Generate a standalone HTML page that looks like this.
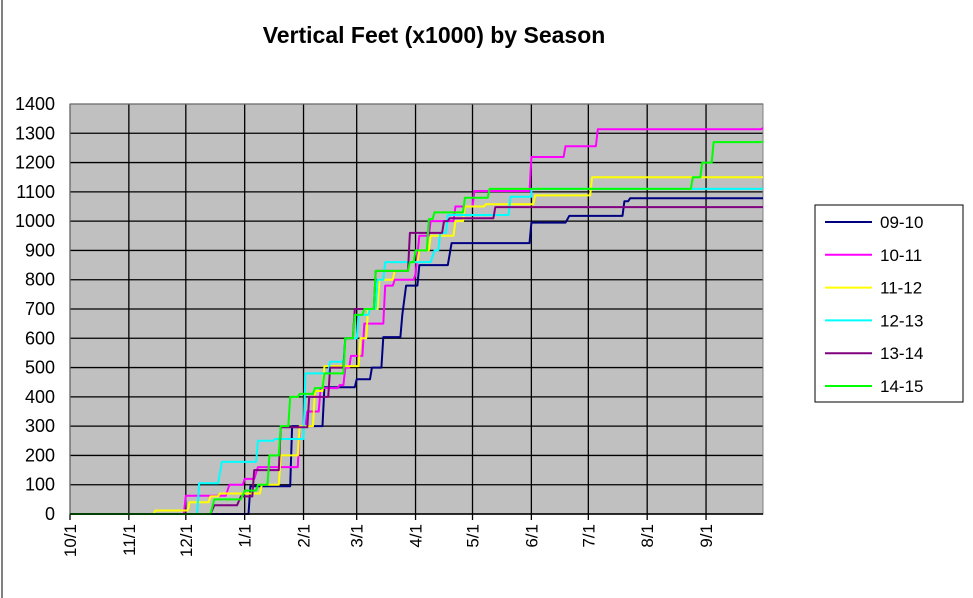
<!DOCTYPE html>
<html><head><meta charset="utf-8"><style>
body{margin:0;background:#fff;}
svg{display:block;font-family:"Liberation Sans",Arial,sans-serif;}
</style></head><body>
<svg id="chart" width="973" height="598" viewBox="0 0 973 598">
<rect x="0" y="0" width="973" height="598" fill="#fff"/>
<line x1="2" y1="0" x2="2" y2="598" stroke="#000" stroke-width="1"/>
<text x="434" y="43" text-anchor="middle" font-size="23" font-weight="bold">Vertical Feet (x1000)  by Season</text>
<rect x="70" y="104" width="693" height="410" fill="#c0c0c0"/>
<g id="grid"></g>
<g id="series"></g>
<g id="axes"></g>
<g id="legend"></g>
</svg>
<script>
const seasons = ["09-10","10-11","11-12","12-13","13-14","14-15"];
const colors = ["#000080","#ff00ff","#ffff00","#00ffff","#800080","#00ff00"];
const monthLabels = ["10/1","11/1","12/1","1/1","2/1","3/1","4/1","5/1","6/1","7/1","8/1","9/1"];
const monthDays = [0,31,61,92,123,151,182,212,243,273,304,335];
const yTicks = [0,100,200,300,400,500,600,700,800,900,1000,1100,1200,1300,1400];
// [day of season, cumulative value] — step changes
const s0910 = [[0,0],[87,0],[95,95],[103,95],[117,300],[134,433],[147,433],[151,460],[158,460],[159,500],[165,604],[171,604],[175,680],[177,780],[183,780],[184,850],[199,850],[201,925],[240,925],[243,995],[261,995],[263,1018],[288,1018],[292,1068],[295,1078],[365,1078]];
const s1011 = [[0,0],[60,0],[61,62],[82,62],[84,100],[92,120],[97,120],[99,160],[110,160],[121,300],[125,350],[132,430],[142,440],[145,500],[148,540],[155,650],[166,780],[171,800],[182,820],[183,880],[184,950],[190,1000],[203,1050],[213,1103],[237,1103],[243,1219],[257,1219],[261,1256],[274,1256],[278,1314],[365,1318]];
const s1112 = [[0,0],[42,0],[45,12],[60,12],[63,40],[74,60],[79,70],[97,70],[101,100],[111,200],[121,300],[129,420],[134,505],[146,505],[153,600],[157,700],[163,800],[171,830],[179,860],[184,900],[190,950],[203,1000],[208,1050],[219,1058],[237,1058],[245,1088],[271,1088],[275,1150],[365,1150]];
const s1213 = [[0,0],[64,0],[68,105],[78,105],[80,178],[88,178],[99,250],[108,256],[124,480],[134,480],[137,520],[145,600],[152,680],[158,700],[162,800],[166,860],[190,860],[192,900],[195,960],[199,1021],[229,1021],[232,1083],[243,1083],[243,1110],[365,1112]];
const s1314 = [[0,0],[74,0],[76,30],[88,30],[90,60],[97,150],[105,150],[111,296],[120,296],[126,400],[137,500],[145,600],[150,700],[161,830],[171,830],[179,960],[187,960],[197,1000],[200,1010],[221,1010],[224,1048],[365,1048]];
const s1415 = [[0,0],[74,0],[76,50],[90,50],[92,80],[99,100],[105,200],[111,300],[116,400],[121,410],[129,430],[134,480],[145,600],[150,680],[155,700],[161,830],[171,830],[179,860],[182,900],[189,1007],[192,1030],[208,1080],[221,1110],[325,1110],[328,1150],[333,1200],[339,1270],[365,1272]];
const allSeries = [s0910,s1011,s1112,s1213,s1314,s1415];

const X0=70, X1=763, Y0=514, Y1=104, DAYS=365, YMAX=1400;
const xs = d => X0 + d*(X1-X0)/DAYS;
const ys = v => Y0 - v*(Y0-Y1)/YMAX;
const NS="http://www.w3.org/2000/svg";
function mk(tag, attrs){const e=document.createElementNS(NS,tag);for(const k in attrs)e.setAttribute(k,attrs[k]);return e;}

const grid=document.getElementById('grid');
yTicks.forEach(t=>{
  const l=mk('line',{x1:X0,x2:X1,y1:ys(t),y2:ys(t),stroke:'#000','stroke-width':1.3});
  
  
  grid.appendChild(l);
});
monthDays.forEach(d=>{
  const l=mk('line',{x1:xs(d),x2:xs(d),y1:Y1,y2:Y0+6,stroke:'#000','stroke-width':1.3});
  
  
  grid.appendChild(l);
});
const border=mk('rect',{x:X0,y:Y1,width:X1-X0,height:Y0-Y1,fill:'none',stroke:'#808080','stroke-width':1});


grid.appendChild(border);

const sg=document.getElementById('series');
allSeries.forEach((s,i)=>{
  let d='M'+xs(s[0][0])+','+ys(s[0][1]);
  for(let k=1;k<s.length;k++){
    const x=xs(s[k][0]).toFixed(1), y=ys(s[k][1]).toFixed(1);
    const dx=s[k][0]-s[k-1][0];
    if(dx>2 && s[k][1]!==s[k-1][1]){
      const xm=xs(s[k][0]-1).toFixed(1);
      d+=' L'+xm+','+ys(s[k-1][1]).toFixed(1)+' L'+x+','+y;
    } else {
      d+=' L'+x+','+y;
    }
  }
  const p=mk('path',{d:d,fill:'none',stroke:colors[i],'stroke-width':2,'stroke-linejoin':'round'});
  
  
  sg.appendChild(p);
});

const ax=document.getElementById('axes');
const xl=mk('line',{x1:X0,x2:X1,y1:Y0,y2:Y0,stroke:'#000','stroke-width':1.5});


ax.appendChild(xl);
yTicks.forEach(t=>{
  const tx=mk('text',{x:55,y:ys(t)+6,'text-anchor':'end','font-size':18});
  tx.textContent=t;
  
  
  ax.appendChild(tx);
});
monthLabels.forEach((m,i)=>{
  const x=xs(monthDays[i]), y=524;
  const tx=mk('text',{x:x+6,y:y,'text-anchor':'end','font-size':17,transform:'rotate(-90 '+(x+6)+' '+y+')'});
  tx.textContent=m;
  
  
  ax.appendChild(tx);
});

const lg=document.getElementById('legend');
const box=mk('rect',{x:815,y:205,width:148,height:197,fill:'#fff',stroke:'#000','stroke-width':1});


lg.appendChild(box);
seasons.forEach((s,i)=>{
  const y=222+i*32.8;
  const l=mk('line',{x1:825,x2:872,y1:y,y2:y,stroke:colors[i],'stroke-width':2});
  
  
  lg.appendChild(l);
  const t=mk('text',{x:880,y:y+6,'font-size':17});
  t.textContent=s;
  
  
  lg.appendChild(t);
});
</script>
</body></html>
